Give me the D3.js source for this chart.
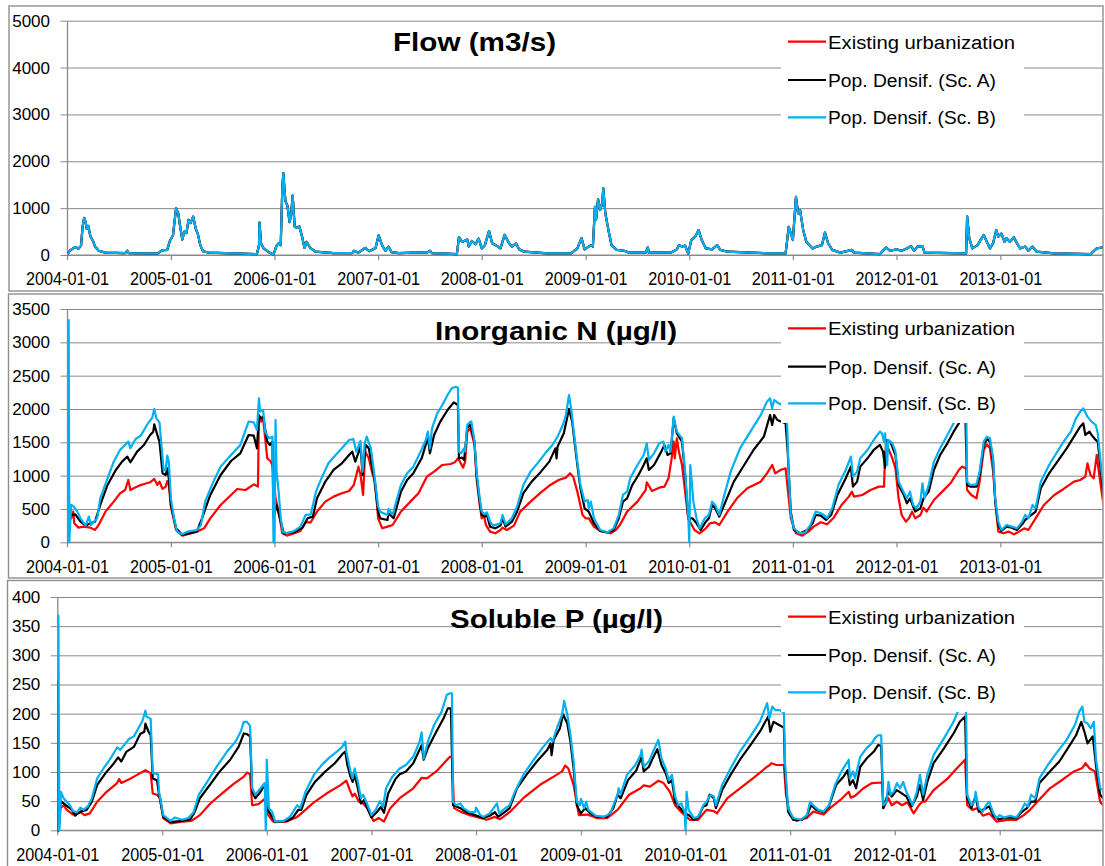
<!DOCTYPE html>
<html><head><meta charset="utf-8">
<script src="https://cdn.jsdelivr.net/npm/d3@7"></script>
<style>
body{margin:0;background:#fff}
svg{display:block}
text{font-family:"Liberation Sans",Arial,sans-serif}
</style></head>
<body><svg id="c" width="1105" height="866"></svg>
<script>
// ---------- DATA (time as decimal year, value) ----------
const seriesNames = ["Existing urbanization", "Pop. Densif. (Sc. A)", "Pop. Densif. (Sc. B)"];
const seriesColors = ["#FF0000", "#000000", "#00B0F0"];
const dateTicks = ["2004-01-01","2005-01-01","2006-01-01","2007-01-01","2008-01-01","2009-01-01","2010-01-01","2011-01-01","2012-01-01","2013-01-01"];
const flowTicks = [0,1000,2000,3000,4000,5000];
const nTicks = [0,500,1000,1500,2000,2500,3000,3500];
const pTicks = [0,50,100,150,200,250,300,350,400];

// Flow (m3/s): the three scenarios coincide
const flow = [[2004.00,0],[2004.03,100],[2004.08,170],[2004.11,130],[2004.135,200],[2004.15,600],[2004.165,790],[2004.18,700],[2004.19,560],[2004.205,620],[2004.225,400],[2004.25,300],[2004.27,180],[2004.305,90],[2004.37,50],[2004.56,40],[2004.58,90],[2004.595,40],[2004.87,30],[2004.915,100],[2004.965,110],[2004.99,300],[2005.02,420],[2005.05,1000],[2005.07,900],[2005.09,600],[2005.11,330],[2005.13,500],[2005.15,470],[2005.17,750],[2005.19,680],[2005.215,820],[2005.24,560],[2005.26,450],[2005.285,200],[2005.31,80],[2005.365,50],[2005.83,20],[2005.85,200],[2005.855,690],[2005.87,250],[2005.895,140],[2005.945,60],[2005.99,10],[2006.02,200],[2006.04,250],[2006.06,210],[2006.075,1400],[2006.085,1750],[2006.105,1150],[2006.125,1050],[2006.145,700],[2006.16,850],[2006.175,1270],[2006.195,600],[2006.22,580],[2006.24,610],[2006.265,400],[2006.29,150],[2006.31,280],[2006.345,150],[2006.395,70],[2006.57,40],[2006.75,40],[2006.765,90],[2006.81,50],[2006.875,150],[2006.915,80],[2006.975,150],[2007.005,420],[2007.04,200],[2007.07,90],[2007.1,180],[2007.13,60],[2007.2,40],[2007.34,50],[2007.47,50],[2007.5,90],[2007.52,40],[2007.76,20],[2007.78,380],[2007.81,280],[2007.86,330],[2007.875,180],[2007.905,300],[2007.94,230],[2007.97,350],[2008.0,140],[2008.03,210],[2008.07,510],[2008.1,250],[2008.15,190],[2008.18,140],[2008.22,430],[2008.26,260],[2008.29,180],[2008.33,250],[2008.36,120],[2008.41,70],[2008.63,35],[2008.86,35],[2008.92,140],[2008.96,360],[2008.99,120],[2009.05,210],[2009.07,180],[2009.09,1030],[2009.1,750],[2009.12,1190],[2009.14,960],[2009.16,1100],[2009.17,1420],[2009.19,890],[2009.22,530],[2009.25,210],[2009.3,110],[2009.37,90],[2009.42,50],[2009.58,50],[2009.6,160],[2009.61,50],[2009.82,50],[2009.88,120],[2009.9,210],[2009.93,180],[2009.96,200],[2009.99,30],[2010.02,320],[2010.06,400],[2010.09,530],[2010.12,320],[2010.16,140],[2010.22,120],[2010.27,210],[2010.3,110],[2010.37,70],[2010.78,35],[2010.93,35],[2010.96,600],[2010.98,460],[2011.0,320],[2011.03,1240],[2011.05,890],[2011.07,950],[2011.1,530],[2011.13,280],[2011.16,210],[2011.19,140],[2011.23,180],[2011.28,210],[2011.31,480],[2011.34,250],[2011.38,110],[2011.46,50],[2011.57,110],[2011.59,50],[2011.84,20],[2011.9,160],[2011.94,90],[2012.0,120],[2012.05,90],[2012.1,140],[2012.14,190],[2012.17,90],[2012.2,180],[2012.25,190],[2012.27,50],[2012.67,35],[2012.68,820],[2012.7,360],[2012.73,140],[2012.78,210],[2012.84,430],[2012.87,280],[2012.9,140],[2012.93,250],[2012.96,530],[2012.98,390],[2013.01,460],[2013.04,280],[2013.06,360],[2013.09,280],[2013.13,380],[2013.16,250],[2013.19,140],[2013.24,180],[2013.27,90],[2013.31,180],[2013.35,70],[2013.52,35],[2013.87,20],[2013.93,140],[2013.98,160],[2014.0,180]];

// Inorganic N (ug/l)
const nExisting = [[2004.0,0],[2004.008,2250],[2004.02,360],[2004.04,360],[2004.06,460],[2004.07,285],[2004.11,220],[2004.16,235],[2004.225,220],[2004.27,185],[2004.305,260],[2004.37,460],[2004.45,610],[2004.51,735],[2004.56,785],[2004.59,935],[2004.61,785],[2004.64,810],[2004.71,860],[2004.8,900],[2004.84,950],[2004.87,860],[2004.89,910],[2004.92,800],[2004.95,835],[2004.965,920],[2004.98,860],[2005.0,535],[2005.05,185],[2005.11,100],[2005.25,160],[2005.32,210],[2005.38,360],[2005.48,560],[2005.58,710],[2005.64,800],[2005.72,785],[2005.8,870],[2005.84,835],[2005.85,1910],[2005.87,1810],[2005.89,1860],[2005.93,1260],[2005.96,1220],[2005.98,1160],[2006.01,660],[2006.04,460],[2006.075,135],[2006.12,100],[2006.19,135],[2006.25,170],[2006.3,300],[2006.35,300],[2006.41,460],[2006.49,610],[2006.57,685],[2006.65,735],[2006.72,770],[2006.765,860],[2006.79,1010],[2006.81,1135],[2006.83,1010],[2006.855,710],[2006.875,1360],[2006.91,1260],[2006.94,1060],[2006.97,910],[2007.0,360],[2007.04,210],[2007.09,235],[2007.14,260],[2007.22,460],[2007.31,610],[2007.39,735],[2007.47,985],[2007.54,1060],[2007.62,1160],[2007.7,1175],[2007.74,1200],[2007.77,1260],[2007.79,1210],[2007.82,1120],[2007.84,1210],[2007.86,1660],[2007.89,1710],[2007.93,1460],[2007.95,960],[2007.98,560],[2008.0,360],[2008.02,410],[2008.04,260],[2008.08,160],[2008.13,135],[2008.18,185],[2008.2,220],[2008.24,185],[2008.31,250],[2008.37,460],[2008.47,610],[2008.57,750],[2008.66,860],[2008.74,935],[2008.81,970],[2008.85,1035],[2008.88,985],[2008.92,760],[2008.97,410],[2009.0,360],[2009.03,360],[2009.08,235],[2009.14,170],[2009.24,135],[2009.29,185],[2009.33,260],[2009.4,460],[2009.5,610],[2009.58,785],[2009.59,900],[2009.64,770],[2009.71,820],[2009.76,835],[2009.8,960],[2009.83,1260],[2009.85,1510],[2009.86,1260],[2009.88,1560],[2009.9,1360],[2009.93,1160],[2009.96,760],[2009.99,360],[2010.05,185],[2010.1,135],[2010.16,210],[2010.2,285],[2010.25,300],[2010.29,260],[2010.37,460],[2010.46,660],[2010.56,810],[2010.69,910],[2010.75,1035],[2010.8,1160],[2010.83,1035],[2010.88,1085],[2010.93,1110],[2010.96,660],[2010.98,360],[2011.03,135],[2011.09,100],[2011.15,160],[2011.2,235],[2011.27,300],[2011.33,270],[2011.39,360],[2011.47,560],[2011.54,685],[2011.57,760],[2011.59,685],[2011.67,710],[2011.75,785],[2011.83,835],[2011.88,835],[2011.89,1360],[2011.92,1410],[2011.96,1260],[2011.99,1110],[2012.02,660],[2012.05,410],[2012.09,310],[2012.12,360],[2012.15,460],[2012.18,360],[2012.23,410],[2012.26,520],[2012.29,460],[2012.36,635],[2012.44,760],[2012.52,885],[2012.6,1085],[2012.63,1135],[2012.67,1110],[2012.68,785],[2012.72,710],[2012.77,660],[2012.8,910],[2012.84,1385],[2012.87,1470],[2012.9,1410],[2012.93,1060],[2012.96,460],[2012.98,160],[2013.03,135],[2013.08,160],[2013.13,120],[2013.18,160],[2013.23,210],[2013.27,185],[2013.34,360],[2013.42,560],[2013.52,710],[2013.61,800],[2013.71,910],[2013.77,935],[2013.82,985],[2013.84,1185],[2013.87,1010],[2013.9,960],[2013.93,1310],[2013.95,1060],[2014.0,510]];
const nScA = [[2004.0,0],[2004.012,2000],[2004.02,450],[2004.04,410],[2004.08,420],[2004.13,310],[2004.18,250],[2004.225,285],[2004.27,310],[2004.32,560],[2004.39,860],[2004.47,1085],[2004.53,1210],[2004.58,1285],[2004.61,1200],[2004.675,1360],[2004.74,1460],[2004.8,1610],[2004.83,1660],[2004.84,1770],[2004.87,1610],[2004.89,1510],[2004.92,1035],[2004.95,1010],[2004.965,1110],[2004.98,960],[2005.0,560],[2005.05,210],[2005.11,110],[2005.25,160],[2005.3,360],[2005.38,710],[2005.48,1010],[2005.58,1220],[2005.67,1335],[2005.75,1610],[2005.8,1600],[2005.83,1410],[2005.85,1900],[2005.87,1860],[2005.89,1885],[2005.93,1510],[2005.955,1460],[2005.98,1510],[2005.99,360],[2006.02,560],[2006.06,310],[2006.09,135],[2006.19,150],[2006.27,220],[2006.32,360],[2006.37,385],[2006.41,660],[2006.49,910],[2006.57,1085],[2006.65,1185],[2006.72,1310],[2006.75,1360],[2006.78,1210],[2006.83,1435],[2006.85,1010],[2006.88,1460],[2006.91,1410],[2006.96,985],[2007.0,460],[2007.02,360],[2007.09,335],[2007.1,435],[2007.15,360],[2007.22,760],[2007.28,935],[2007.34,1035],[2007.42,1260],[2007.48,1570],[2007.5,1335],[2007.54,1610],[2007.6,1810],[2007.67,1985],[2007.73,2100],[2007.77,2060],[2007.78,1260],[2007.81,1270],[2007.83,1235],[2007.86,1710],[2007.89,1770],[2007.93,1510],[2007.95,1010],[2007.98,610],[2008.0,410],[2008.03,385],[2008.05,410],[2008.08,235],[2008.13,210],[2008.18,250],[2008.2,360],[2008.23,235],[2008.29,310],[2008.34,460],[2008.4,735],[2008.48,910],[2008.57,1060],[2008.65,1210],[2008.71,1410],[2008.72,1260],[2008.73,1435],[2008.79,1635],[2008.84,2000],[2008.87,1810],[2008.92,1160],[2008.95,810],[2008.99,510],[2009.03,460],[2009.08,285],[2009.14,170],[2009.21,150],[2009.27,185],[2009.32,360],[2009.36,610],[2009.4,660],[2009.45,860],[2009.51,1010],[2009.56,1160],[2009.59,1260],[2009.61,1085],[2009.66,1160],[2009.73,1360],[2009.76,1460],[2009.79,1310],[2009.82,1335],[2009.85,1860],[2009.88,1635],[2009.93,1510],[2009.96,1010],[2009.99,360],[2010.03,360],[2010.07,285],[2010.11,185],[2010.16,310],[2010.19,360],[2010.22,560],[2010.25,510],[2010.29,385],[2010.35,610],[2010.43,910],[2010.53,1160],[2010.62,1385],[2010.72,1585],[2010.78,1910],[2010.8,1760],[2010.82,1910],[2010.85,1835],[2010.89,1810],[2010.93,1785],[2010.95,1360],[2010.98,460],[2011.01,185],[2011.07,135],[2011.14,185],[2011.19,285],[2011.22,410],[2011.27,400],[2011.32,335],[2011.37,410],[2011.43,710],[2011.51,960],[2011.56,1135],[2011.58,835],[2011.62,910],[2011.65,1135],[2011.72,1260],[2011.78,1385],[2011.84,1460],[2011.87,1360],[2011.89,1120],[2011.9,1535],[2011.94,1510],[2011.99,1310],[2012.02,860],[2012.07,710],[2012.1,585],[2012.13,660],[2012.18,460],[2012.23,510],[2012.26,660],[2012.31,760],[2012.36,1085],[2012.42,1310],[2012.49,1485],[2012.55,1660],[2012.6,1785],[2012.66,2060],[2012.68,860],[2012.71,835],[2012.77,835],[2012.8,1010],[2012.84,1460],[2012.87,1550],[2012.9,1510],[2012.93,1210],[2012.95,610],[2012.98,260],[2013.01,170],[2013.06,235],[2013.11,220],[2013.16,185],[2013.21,270],[2013.24,335],[2013.3,410],[2013.34,460],[2013.39,810],[2013.47,1035],[2013.55,1210],[2013.64,1410],[2013.71,1585],[2013.77,1735],[2013.8,1785],[2013.82,1610],[2013.86,1660],[2013.88,1610],[2013.92,1535],[2013.94,1510],[2013.97,1060],[2014.0,660]];
const nScB = [[2004.0,0],[2004.008,2260],[2004.016,3335],[2004.022,0],[2004.04,560],[2004.065,535],[2004.1,460],[2004.13,360],[2004.18,250],[2004.21,385],[2004.23,260],[2004.29,360],[2004.32,660],[2004.39,960],[2004.45,1210],[2004.51,1385],[2004.59,1510],[2004.61,1410],[2004.66,1550],[2004.71,1600],[2004.77,1760],[2004.82,1870],[2004.84,2000],[2004.86,1860],[2004.89,1800],[2004.92,1260],[2004.93,1085],[2004.95,1085],[2004.965,1300],[2004.98,1210],[2005.0,660],[2005.03,360],[2005.06,160],[2005.11,120],[2005.16,160],[2005.25,185],[2005.29,260],[2005.33,610],[2005.41,910],[2005.48,1135],[2005.58,1310],[2005.67,1460],[2005.75,1810],[2005.8,1800],[2005.83,1685],[2005.85,2160],[2005.86,1960],[2005.89,1985],[2005.91,1660],[2005.945,1560],[2005.98,1585],[2005.99,0],[2006.0,0],[2006.01,1835],[2006.02,1060],[2006.04,760],[2006.06,360],[2006.08,160],[2006.12,135],[2006.19,170],[2006.25,235],[2006.3,410],[2006.35,420],[2006.4,760],[2006.46,985],[2006.52,1185],[2006.59,1310],[2006.65,1410],[2006.72,1535],[2006.76,1550],[2006.79,1360],[2006.83,1520],[2006.85,1060],[2006.87,1485],[2006.89,1585],[2006.93,1410],[2006.96,1060],[2007.0,535],[2007.02,460],[2007.09,410],[2007.1,500],[2007.14,410],[2007.17,585],[2007.22,860],[2007.28,1035],[2007.34,1135],[2007.41,1360],[2007.46,1535],[2007.48,1660],[2007.5,1410],[2007.52,1710],[2007.57,1935],[2007.62,2060],[2007.67,2210],[2007.71,2310],[2007.75,2335],[2007.77,2320],[2007.78,1360],[2007.8,1335],[2007.83,1410],[2007.84,1360],[2007.86,1760],[2007.89,1810],[2007.9,1810],[2007.93,1510],[2007.95,1060],[2007.98,660],[2008.0,460],[2008.03,420],[2008.05,450],[2008.08,310],[2008.11,250],[2008.18,285],[2008.2,410],[2008.23,270],[2008.29,360],[2008.34,535],[2008.4,860],[2008.47,1060],[2008.55,1210],[2008.61,1335],[2008.68,1460],[2008.73,1585],[2008.78,1760],[2008.81,1910],[2008.84,2210],[2008.86,2010],[2008.89,1610],[2008.92,1210],[2008.95,860],[2008.99,610],[2009.02,635],[2009.03,510],[2009.05,610],[2009.08,360],[2009.14,185],[2009.21,150],[2009.27,210],[2009.32,410],[2009.36,710],[2009.4,760],[2009.43,960],[2009.5,1160],[2009.56,1310],[2009.59,1485],[2009.61,1235],[2009.66,1335],[2009.71,1485],[2009.75,1510],[2009.77,1360],[2009.8,1460],[2009.82,1360],[2009.85,1885],[2009.88,1660],[2009.93,1560],[2009.96,1060],[2009.99,410],[2010.0,0],[2010.01,1160],[2010.04,610],[2010.07,360],[2010.1,210],[2010.15,360],[2010.19,410],[2010.22,610],[2010.25,560],[2010.29,410],[2010.33,660],[2010.4,1060],[2010.49,1410],[2010.59,1660],[2010.69,1910],[2010.75,2110],[2010.78,2160],[2010.8,2010],[2010.82,2135],[2010.86,2085],[2010.9,2060],[2010.94,1960],[2010.96,1060],[2010.98,410],[2011.01,210],[2011.06,135],[2011.12,150],[2011.17,260],[2011.22,460],[2011.27,435],[2011.3,410],[2011.33,360],[2011.38,510],[2011.44,860],[2011.51,1085],[2011.56,1285],[2011.58,985],[2011.62,1060],[2011.65,1260],[2011.72,1385],[2011.78,1535],[2011.84,1660],[2011.86,1635],[2011.88,1510],[2011.89,1635],[2011.91,1160],[2011.92,1535],[2011.96,1485],[2011.99,1360],[2012.02,910],[2012.05,810],[2012.1,660],[2012.13,760],[2012.16,560],[2012.19,510],[2012.23,610],[2012.25,885],[2012.27,660],[2012.31,860],[2012.36,1210],[2012.42,1410],[2012.49,1610],[2012.55,1785],[2012.62,2010],[2012.67,2210],[2012.68,910],[2012.71,860],[2012.77,870],[2012.8,1060],[2012.84,1510],[2012.87,1585],[2012.9,1560],[2012.93,1260],[2012.95,660],[2012.98,310],[2013.01,185],[2013.06,260],[2013.11,235],[2013.16,210],[2013.21,310],[2013.24,410],[2013.27,360],[2013.31,560],[2013.34,510],[2013.39,910],[2013.47,1160],[2013.55,1360],[2013.61,1510],[2013.68,1660],[2013.73,1860],[2013.77,1960],[2013.8,2010],[2013.84,1885],[2013.88,1810],[2013.92,1760],[2013.94,1635],[2013.97,1160],[2014.0,760]];

// Soluble P (ug/l)
const pExisting = [[2004.0,0],[2004.006,180],[2004.012,0],[2004.03,38],[2004.06,43],[2004.09,35],[2004.15,27],[2004.22,31],[2004.26,26],[2004.31,29],[2004.38,49],[2004.47,66],[2004.57,81],[2004.59,88],[2004.61,81],[2004.69,88],[2004.76,95],[2004.84,103],[2004.89,98],[2004.91,63],[2004.95,61],[2004.98,55],[2005.01,21],[2005.08,12],[2005.19,15],[2005.28,16],[2005.36,26],[2005.46,46],[2005.57,63],[2005.68,79],[2005.78,92],[2005.81,99],[2005.84,96],[2005.86,43],[2005.92,45],[2005.98,54],[2006.01,27],[2006.06,15],[2006.19,15],[2006.29,23],[2006.35,32],[2006.45,48],[2006.57,63],[2006.7,77],[2006.76,85],[2006.8,66],[2006.82,58],[2006.84,63],[2006.88,49],[2006.92,46],[2006.96,38],[2007.02,16],[2007.07,21],[2007.12,15],[2007.18,38],[2007.27,55],[2007.4,72],[2007.48,90],[2007.53,89],[2007.62,101],[2007.75,126],[2007.77,126],[2007.79,38],[2007.85,32],[2007.94,26],[2008.04,21],[2008.1,18],[2008.18,23],[2008.23,19],[2008.32,31],[2008.45,55],[2008.61,78],[2008.74,92],[2008.82,101],[2008.85,111],[2008.88,106],[2008.93,78],[2008.98,26],[2009.06,27],[2009.15,21],[2009.25,21],[2009.35,35],[2009.46,61],[2009.57,72],[2009.6,77],[2009.66,75],[2009.74,85],[2009.79,81],[2009.85,66],[2009.9,43],[2009.96,31],[2010.04,18],[2010.12,18],[2010.2,35],[2010.27,33],[2010.3,29],[2010.4,55],[2010.52,72],[2010.65,90],[2010.78,109],[2010.8,111],[2010.82,115],[2010.87,112],[2010.94,112],[2010.96,61],[2011.0,26],[2011.06,16],[2011.16,21],[2011.22,32],[2011.32,27],[2011.38,38],[2011.48,52],[2011.56,66],[2011.58,56],[2011.62,59],[2011.7,72],[2011.78,81],[2011.88,82],[2011.89,38],[2011.94,55],[2011.97,43],[2012.02,49],[2012.07,43],[2012.12,48],[2012.18,29],[2012.23,43],[2012.26,49],[2012.29,49],[2012.37,69],[2012.5,88],[2012.59,106],[2012.67,121],[2012.69,43],[2012.74,35],[2012.79,38],[2012.84,25],[2012.9,29],[2012.97,15],[2013.07,18],[2013.16,18],[2013.23,26],[2013.29,35],[2013.36,49],[2013.48,72],[2013.61,88],[2013.71,101],[2013.79,107],[2013.82,115],[2013.86,106],[2013.91,101],[2013.96,49],[2013.99,43],[2014.0,42]];
const pScA = [[2004.0,0],[2004.005,255],[2004.012,0],[2004.03,49],[2004.04,49],[2004.09,42],[2004.14,35],[2004.17,25],[2004.22,32],[2004.28,35],[2004.33,49],[2004.38,78],[2004.46,98],[2004.54,115],[2004.58,125],[2004.61,118],[2004.66,135],[2004.73,143],[2004.79,165],[2004.83,169],[2004.84,183],[2004.87,169],[2004.89,163],[2004.91,89],[2004.95,86],[2004.97,61],[2005.01,23],[2005.08,14],[2005.19,16],[2005.27,19],[2005.31,31],[2005.36,55],[2005.46,79],[2005.55,101],[2005.65,121],[2005.73,143],[2005.78,166],[2005.81,165],[2005.84,161],[2005.86,66],[2005.89,55],[2005.94,66],[2005.98,78],[2006.0,38],[2006.03,29],[2006.08,14],[2006.19,16],[2006.25,22],[2006.3,35],[2006.33,35],[2006.38,61],[2006.46,83],[2006.56,101],[2006.65,115],[2006.73,132],[2006.75,135],[2006.77,112],[2006.8,92],[2006.82,83],[2006.84,95],[2006.87,72],[2006.9,46],[2006.93,52],[2006.96,38],[2007.0,22],[2007.05,31],[2007.09,40],[2007.12,30],[2007.16,63],[2007.23,88],[2007.27,96],[2007.33,101],[2007.4,115],[2007.46,138],[2007.48,146],[2007.5,121],[2007.54,141],[2007.62,169],[2007.69,192],[2007.73,209],[2007.76,209],[2007.78,43],[2007.85,38],[2007.91,31],[2007.99,26],[2008.07,21],[2008.13,25],[2008.18,31],[2008.21,23],[2008.28,32],[2008.32,38],[2008.39,72],[2008.48,95],[2008.58,118],[2008.68,138],[2008.71,149],[2008.72,129],[2008.74,155],[2008.8,175],[2008.83,199],[2008.87,183],[2008.9,152],[2008.93,106],[2008.96,43],[2009.0,29],[2009.04,38],[2009.09,29],[2009.15,23],[2009.25,23],[2009.31,38],[2009.35,61],[2009.38,55],[2009.45,86],[2009.53,103],[2009.58,126],[2009.6,101],[2009.65,109],[2009.69,125],[2009.73,139],[2009.77,112],[2009.81,98],[2009.84,81],[2009.87,86],[2009.9,49],[2009.95,38],[2009.99,29],[2010.03,26],[2010.08,18],[2010.12,22],[2010.17,41],[2010.2,43],[2010.23,61],[2010.27,55],[2010.29,38],[2010.35,69],[2010.43,95],[2010.52,121],[2010.62,146],[2010.71,169],[2010.79,195],[2010.81,169],[2010.84,186],[2010.89,181],[2010.94,176],[2010.95,106],[2010.98,32],[2011.03,18],[2011.11,18],[2011.16,25],[2011.2,43],[2011.25,35],[2011.32,31],[2011.37,41],[2011.44,78],[2011.51,92],[2011.55,103],[2011.57,78],[2011.6,86],[2011.63,72],[2011.67,109],[2011.73,123],[2011.8,135],[2011.84,146],[2011.87,145],[2011.89,38],[2011.94,66],[2011.97,58],[2012.02,69],[2012.07,63],[2012.11,58],[2012.16,41],[2012.21,58],[2012.24,78],[2012.27,52],[2012.31,83],[2012.37,115],[2012.47,141],[2012.56,166],[2012.62,186],[2012.67,195],[2012.69,55],[2012.73,38],[2012.77,58],[2012.8,32],[2012.87,38],[2012.9,41],[2012.94,25],[2012.99,19],[2013.07,22],[2013.16,21],[2013.21,31],[2013.26,38],[2013.3,49],[2013.34,49],[2013.38,81],[2013.48,101],[2013.57,118],[2013.66,143],[2013.73,163],[2013.78,186],[2013.81,169],[2013.84,149],[2013.89,161],[2013.92,112],[2013.96,61],[2013.99,55],[2014.0,50]];
const pScB = [[2004.0,0],[2004.01,368],[2004.02,0],[2004.035,66],[2004.06,55],[2004.09,49],[2004.12,43],[2004.15,33],[2004.19,31],[2004.22,39],[2004.25,35],[2004.29,41],[2004.33,55],[2004.38,89],[2004.44,106],[2004.5,121],[2004.57,142],[2004.6,138],[2004.65,149],[2004.68,156],[2004.73,161],[2004.77,174],[2004.81,187],[2004.84,205],[2004.85,195],[2004.89,191],[2004.91,98],[2004.96,96],[2004.97,66],[2005.01,26],[2005.08,16],[2005.12,22],[2005.19,18],[2005.25,21],[2005.3,31],[2005.35,61],[2005.43,83],[2005.52,109],[2005.62,135],[2005.7,152],[2005.75,169],[2005.78,186],[2005.81,186],[2005.84,179],[2005.86,72],[2005.89,61],[2005.94,72],[2005.98,81],[2005.99,0],[2006.0,121],[2006.02,38],[2006.05,32],[2006.08,15],[2006.16,16],[2006.22,23],[2006.29,43],[2006.32,38],[2006.37,66],[2006.45,95],[2006.53,113],[2006.6,125],[2006.67,135],[2006.72,143],[2006.75,152],[2006.76,135],[2006.8,101],[2006.82,89],[2006.84,106],[2006.87,83],[2006.9,55],[2006.92,61],[2006.96,45],[2007.0,26],[2007.04,35],[2007.08,50],[2007.11,40],[2007.14,72],[2007.2,92],[2007.27,106],[2007.33,112],[2007.4,126],[2007.46,152],[2007.48,168],[2007.5,123],[2007.54,152],[2007.6,181],[2007.67,203],[2007.72,232],[2007.75,235],[2007.77,235],[2007.78,49],[2007.81,43],[2007.85,46],[2007.88,38],[2007.94,31],[2007.99,31],[2008.0,39],[2008.04,26],[2008.07,23],[2008.13,29],[2008.2,46],[2008.22,29],[2008.28,38],[2008.32,43],[2008.37,66],[2008.45,95],[2008.55,121],[2008.64,143],[2008.71,158],[2008.73,152],[2008.77,175],[2008.82,198],[2008.84,222],[2008.87,198],[2008.9,163],[2008.93,118],[2008.96,49],[2008.99,43],[2009.0,54],[2009.03,38],[2009.05,49],[2009.07,35],[2009.14,25],[2009.22,23],[2009.28,29],[2009.31,43],[2009.35,61],[2009.36,72],[2009.38,62],[2009.44,95],[2009.52,112],[2009.57,129],[2009.58,138],[2009.6,109],[2009.65,118],[2009.69,135],[2009.74,155],[2009.77,123],[2009.81,106],[2009.84,86],[2009.87,95],[2009.9,58],[2009.93,43],[2009.96,46],[2009.99,32],[2010.0,0],[2010.01,66],[2010.03,35],[2010.08,21],[2010.12,23],[2010.17,43],[2010.2,49],[2010.24,61],[2010.27,58],[2010.29,43],[2010.35,78],[2010.43,106],[2010.52,135],[2010.62,161],[2010.71,186],[2010.78,218],[2010.8,192],[2010.83,212],[2010.86,206],[2010.9,206],[2010.94,202],[2010.95,118],[2010.98,38],[2011.03,21],[2011.1,18],[2011.16,26],[2011.19,49],[2011.22,43],[2011.27,35],[2011.32,32],[2011.37,43],[2011.43,78],[2011.49,101],[2011.56,121],[2011.57,89],[2011.6,101],[2011.62,89],[2011.67,126],[2011.73,141],[2011.78,149],[2011.81,158],[2011.84,163],[2011.87,163],[2011.89,43],[2011.92,49],[2011.94,83],[2011.96,61],[2011.99,66],[2012.02,81],[2012.05,72],[2012.08,83],[2012.11,66],[2012.14,55],[2012.17,43],[2012.21,66],[2012.24,95],[2012.27,61],[2012.31,95],[2012.37,129],[2012.47,158],[2012.56,186],[2012.6,203],[2012.66,222],[2012.68,200],[2012.69,61],[2012.73,43],[2012.76,49],[2012.77,66],[2012.8,38],[2012.84,32],[2012.87,43],[2012.9,49],[2012.94,29],[2012.97,21],[2013.0,26],[2013.04,22],[2013.1,25],[2013.16,22],[2013.21,35],[2013.24,46],[2013.27,41],[2013.3,61],[2013.34,55],[2013.38,89],[2013.46,112],[2013.54,132],[2013.64,155],[2013.72,181],[2013.76,203],[2013.79,212],[2013.81,186],[2013.84,183],[2013.87,175],[2013.9,186],[2013.92,123],[2013.96,72],[2013.99,69],[2014.0,60]];

// ---------- LAYOUT ----------
const panels = [
  {title:"Flow (m3/s)", tX:393, tY:51, tLen:163, data:[flow, flow, flow], ticks:flowTicks,
   left:67, right:1104, top:20.7, bottom:255, frame:[9,6,1094,285], rows:[41.7,80,117.3], box:[781,23,243,114]},
  {title:"Inorganic N (\u00b5g/l)", tX:435, tY:340, tLen:242, data:[nExisting, nScA, nScB], ticks:nTicks,
   left:67, right:1104, top:309, bottom:542.3, frame:[8.5,294,1094.5,284], rows:[328.3,366.7,403.3], box:[781,311,243,112]},
  {title:"Soluble P (\u00b5g/l)", tX:450, tY:628, tLen:213, data:[pExisting, pScA, pScB], ticks:pTicks,
   left:57.3, right:1104.3, top:597, bottom:830.3, frame:[7.5,580.5,1095.5,300], rows:[616.7,655,692.3], box:[781,599,243,113]}
];
const gridRight = 1103;
const gridColor = "#8a8a8a";

function toDate(t){
  const y = Math.floor(t);
  const s = Date.UTC(y,0,1), e = Date.UTC(y+1,0,1);
  return new Date(s + (t - y) * (e - s));
}

const svg = d3.select("#c");
svg.append("rect").attr("width",1105).attr("height",866).attr("fill","#fff");
const defs = svg.append("defs");
const legendLens = [187,168,168];

panels.forEach((p, i) => {
  const g = svg.append("g");
  const x = d3.scaleUtc().domain([toDate(2004), toDate(2014)]).range([p.left, p.right]);
  const y = d3.scaleLinear().domain([0, d3.max(p.ticks)]).range([p.bottom, p.top]);

  g.append("rect").attr("x",p.frame[0]).attr("y",p.frame[1]).attr("width",p.frame[2]).attr("height",p.frame[3])
    .attr("fill","none").attr("stroke","#8f8f8f").attr("stroke-width",1.4);

  // gridlines
  const grid = g.append("g").attr("transform",`translate(${p.left},0)`)
    .call(d3.axisLeft(y).tickValues(p.ticks).tickSize(-(gridRight - p.left)).tickFormat(""));
  grid.select(".domain").remove();
  grid.selectAll("line").attr("stroke", gridColor).attr("stroke-width",1);

  // y axis
  const ya = g.append("g").attr("transform",`translate(${p.left},0)`)
    .call(d3.axisLeft(y).tickValues(p.ticks).tickSize(6.5).tickSizeOuter(0).tickPadding(10.5).tickFormat(d3.format("d")));
  ya.select(".domain").attr("stroke", gridColor).attr("stroke-width",1.3);
  ya.selectAll(".tick line").attr("stroke", gridColor);
  ya.selectAll("text").attr("font-size",17).attr("fill","#000");

  // x axis
  const xa = g.append("g").attr("transform",`translate(0,${p.bottom})`)
    .call(d3.axisBottom(x).tickValues(dateTicks.map(s => new Date(s + "T00:00:00Z")))
      .tickSize(5).tickSizeOuter(0).tickPadding(12.5).tickFormat(d3.utcFormat("%Y-%m-%d")));
  xa.select(".domain").remove();
  xa.selectAll(".tick line").attr("stroke", gridColor).attr("stroke-width",1.2);
  xa.selectAll("text").attr("font-size",18).attr("fill","#000")
    .attr("textLength",83).attr("lengthAdjust","spacingAndGlyphs");
  g.append("line").attr("x1",p.left).attr("x2",gridRight).attr("y1",p.bottom).attr("y2",p.bottom)
    .attr("stroke",gridColor).attr("stroke-width",1.2);

  // clip
  const cid = "clip" + i;
  defs.append("clipPath").attr("id",cid).append("rect")
    .attr("x",p.left).attr("y",p.top - 4).attr("width",1102.3 - p.left).attr("height",p.bottom - p.top + 6);

  const line = d3.line().x(d => x(toDate(d[0]))).y(d => y(d[1])).curve(d3.curveLinear);
  const lg = g.append("g").attr("clip-path",`url(#${cid})`);
  p.data.forEach((s, k) => {
    lg.append("path").datum(s).attr("d", line).attr("fill","none")
      .attr("stroke", seriesColors[k]).attr("stroke-width",2.2)
      .attr("stroke-linejoin","round").attr("stroke-linecap","round");
  });

  // legend
  g.append("rect").attr("x",p.box[0]).attr("y",p.box[1]).attr("width",p.box[2]).attr("height",p.box[3]).attr("fill","#fff");
  seriesNames.forEach((name, k) => {
    const ry = p.rows[k];
    g.append("line").attr("x1",788).attr("x2",826).attr("y1",ry).attr("y2",ry)
      .attr("stroke",seriesColors[k]).attr("stroke-width",2.2);
    g.append("text").attr("x",828).attr("y",ry + 7).attr("font-size",18).attr("fill","#000")
      .attr("textLength",legendLens[k]).attr("lengthAdjust","spacingAndGlyphs").text(name);
  });

  // title
  g.append("text").attr("x",p.tX).attr("y",p.tY).attr("font-size",25).attr("font-weight","bold").attr("fill","#000")
    .attr("textLength",p.tLen).attr("lengthAdjust","spacingAndGlyphs").text(p.title);
});
</script>
</body></html>
